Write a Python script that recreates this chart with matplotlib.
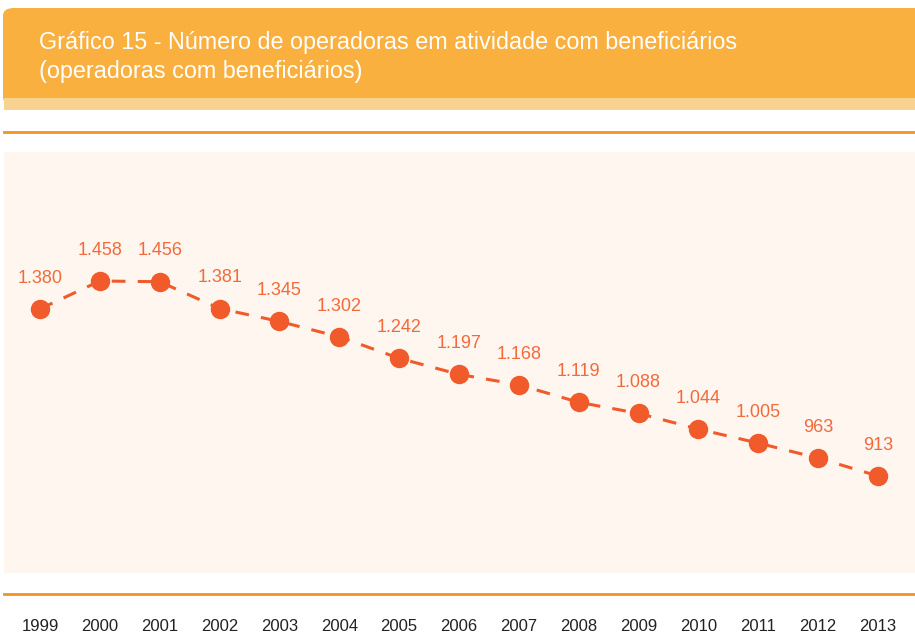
import matplotlib
matplotlib.use("Agg")
import matplotlib.pyplot as plt
from matplotlib.patches import Rectangle, FancyBboxPatch
from matplotlib.lines import Line2D

HEADER = "#F9B03E"
HEADER_LIGHT = "#F8D28F"
RULE = "#F39322"
PLOT_BG = "#FEF6EF"
MARKER = "#F15A2B"
LABEL = "#F26A3C"
YEAR_COLOR = "#222222"

years = [1999, 2000, 2001, 2002, 2003, 2004, 2005, 2006, 2007, 2008, 2009, 2010, 2011, 2012, 2013]
operadoras = [1380, 1458, 1456, 1381, 1345, 1302, 1242, 1197, 1168, 1119, 1088, 1044, 1005, 963, 913]

title = "Gráfico 15 - Número de operadoras em atividade com beneficiários\n(operadoras com beneficiários)"

W, H = 915, 635
plt.rcParams['font.family'] = ['Liberation Sans', 'DejaVu Sans']
fig = plt.figure(figsize=(W / 100, H / 100), dpi=100)
fig.patch.set_facecolor("white")


def fx(px):
    return px / W


def fy(py):
    return 1 - py / H


# header band (rounded top-left corner)
fig.patches.append(FancyBboxPatch((fx(3) + 0.012, fy(110) + 0.02), 1.2, fy(8) - fy(110) - 0.02 - 0.012,
                                  boxstyle="round,pad=0.012,rounding_size=0.012",
                                  transform=fig.transFigure, facecolor=HEADER, edgecolor="none", zorder=0))
fig.patches.append(Rectangle((fx(4), fy(110)), 1, fy(98) - fy(110), transform=fig.transFigure,
                             facecolor=HEADER_LIGHT, edgecolor="none", zorder=1))
fig.text(fx(39), fy(57), title, color="white", fontsize=16.8, ha="left", va="center",
         linespacing=1.33)

# horizontal rules
for py in (132, 594):
    fig.lines.append(Line2D([fx(4), 1], [fy(py), fy(py)], transform=fig.transFigure,
                            color=RULE, lw=2))

# plot area
ax = fig.add_axes([fx(4), fy(573), 1 - fx(4), fy(152) - fy(573)])
ax.set_facecolor(PLOT_BG)
for s in ax.spines.values():
    s.set_visible(False)

px_per_year = (878 - 40) / (years[-1] - years[0])
ax.set_xlim(years[0] - 36 / px_per_year, years[-1] + 37 / px_per_year)
px_per_unit = (476 - 281) / (max(operadoras) - min(operadoras))
ax.set_ylim(min(operadoras) - (573 - 476) / px_per_unit, max(operadoras) + (281 - 152) / px_per_unit)

ax.plot(years, operadoras, color=MARKER, lw=2.2, ls=(0, (4.5, 4)), marker="o",
        markersize=13, markerfacecolor=MARKER, markeredgecolor=MARKER, zorder=3)


def fmt(v):
    return f"{v:,}".replace(",", ".")


for x, y in zip(years, operadoras):
    ax.annotate(fmt(y), (x, y), xytext=(0, 16), textcoords="offset points",
                ha="center", va="bottom", color=LABEL, fontsize=13)

ax.set_yticks([])
ax.set_xticks(years)
ax.set_xticklabels([str(y) for y in years], color=YEAR_COLOR, fontsize=12)
ax.tick_params(axis="x", length=0, pad=33)

fig.savefig("out.png", dpi=100, facecolor="white")
